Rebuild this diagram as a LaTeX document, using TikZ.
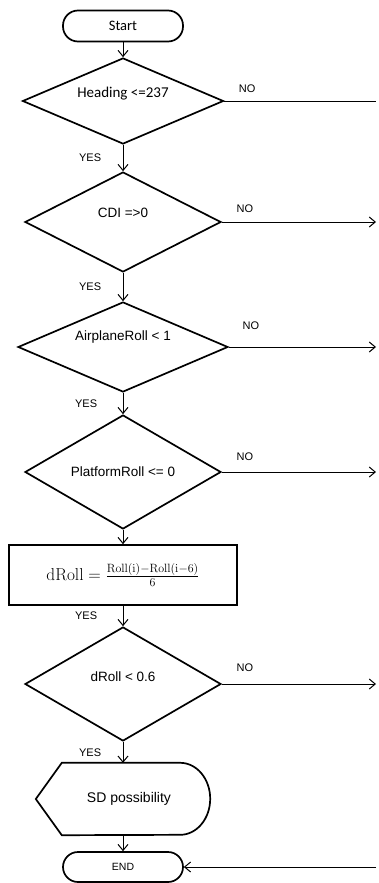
\documentclass[tikz,border=0pt]{standalone}
\usepackage{amsmath}
\usepackage[no-math]{fontspec}
\setmainfont{Liberation Sans}
\newfontfamily\calfont{Carlito}
\usetikzlibrary{shapes.geometric,arrows.meta}
\begin{document}
\begin{tikzpicture}[x=1pt,y=-1pt]
    \tikzstyle{term}=[
        draw = black,
        line width = 1.7pt,
        fill = white,
        rounded corners = 15pt,
        minimum width = 120pt,
        minimum height = 31pt
    ]
    \tikzstyle{dec}=[
        draw = black,
        line width = 1.7pt,
        diamond,
        inner sep = 0pt
    ]
    \tikzstyle{proc}=[
        draw = black,
        line width = 1.7pt,
        minimum width = 228pt,
        minimum height = 60pt
    ]
    \tikzstyle{flow}=[
        line width = 1pt,
        -{Straight Barb[length=6pt,width=10pt]}
    ]
    \tikzstyle{tag}=[
        font = \fontsize{11}{12}\selectfont
    ]
    \tikzstyle{dtext}=[
        font = \fontsize{13.5}{16}\selectfont
    ]

    \useasboundingbox (0,0) rectangle (378,883);

	\node[term, font=\calfont\fontsize{14.5}{17}\selectfont] (s) at (123,26) {Start};
	\node[dec, minimum width=201pt, minimum height=86pt, label={[yshift=7pt, font=\calfont\fontsize{15}{17}\selectfont]center:Heading <=237}] (h) at (123,101) {};
	\node[dec, minimum width=196pt, minimum height=100pt, label={[dtext, yshift=9pt]center:CDI =>0}] (c) at (123,222) {};
	\node[dec, minimum width=210pt, minimum height=90pt, label={[dtext, yshift=10pt]center:AirplaneRoll < 1}] (a) at (123,347) {};
	\node[dec, minimum width=196pt, minimum height=114pt, label={[dtext]center:PlatformRoll <= 0}] (p) at (123,472) {};
	\node[proc, font=\fontsize{17}{20}\selectfont] (r) at (123,575) {$\mathrm{dRoll} = \frac{\mathrm{Roll(i)-Roll(i-6)}}{6}$};
	\node[dec, minimum width=196pt, minimum height=114pt, label={[dtext, yshift=7pt]center:dRoll < 0.6}] (d) at (123,684) {};
	\node[minimum width=174pt, minimum height=72pt, inner sep=0pt, font=\fontsize{14}{16}\selectfont] (sd) at (123,799) {\hspace{12pt}SD possibility};
	\node[term, minimum height=30pt, font=\fontsize{10.5}{12}\selectfont] (e) at (123,867) {END};

	\coordinate (n1) at (376,101);
	\coordinate (n2) at (376,222);
	\coordinate (n3) at (376,347);
	\coordinate (n4) at (376,472);
	\coordinate (n5) at (376,684);
	\coordinate (n6) at (376,867);

	\draw[line width=1.7pt] (sd.west) -- ([xshift=26pt]sd.north west) -- ([xshift=-30pt]sd.north east) arc[start angle=90, end angle=-90, x radius=30pt, y radius=36pt] -- ([xshift=26pt]sd.south west) -- cycle;

	\path[flow] (s) edge (h);
	\path[flow] (h) edge node[tag, left, xshift=-18pt]{YES} (c);
	\path[flow] (c) edge node[tag, left, xshift=-18pt]{YES} (a);
	\path[flow] (a) edge node[tag, left, xshift=-22pt]{YES} (p);
	\path[flow] (p) edge (r);
	\path[flow] (r) edge node[tag, left, xshift=-22pt]{YES} (d);
	\path[flow] (d) edge node[tag, left, xshift=-18pt]{YES} (sd);
	\path[flow] (sd) edge (e);
	\path[line width=1pt] (h) edge node[tag, above=5pt, pos=0.15]{NO} (n1);
	\path[flow] (c) edge node[tag, above=6pt, pos=0.15]{NO} (n2);
	\path[flow] (a) edge node[tag, above=14pt, pos=0.15]{NO} (n3);
	\path[flow] (p) edge node[tag, above=8pt, pos=0.15]{NO} (n4);
	\path[flow] (d) edge node[tag, above=9pt, pos=0.15]{NO} (n5);
	\path[flow] (n6) edge (e);

	\end{tikzpicture}
\end{document}
